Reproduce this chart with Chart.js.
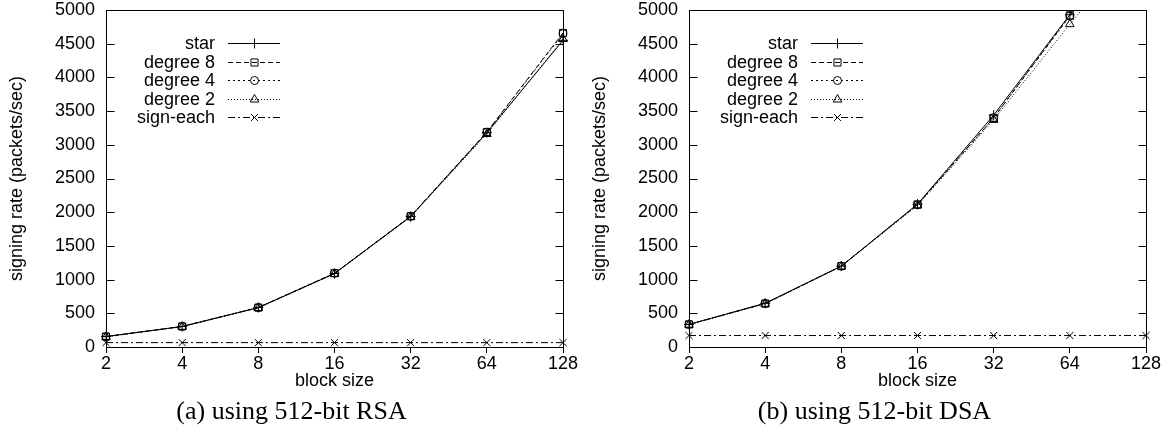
<!DOCTYPE html>
<html>
<head>
<meta charset="utf-8">
<title>signing rate</title>
<script src="https://cdn.jsdelivr.net/npm/chart.js@4.4.1/dist/chart.umd.min.js"></script>
<style>
  body { margin: 0; background: #fff; }
  .panel { position: absolute; top: 0; width: 583px; height: 436px; }
  .panel canvas { position: absolute; left: 0; top: 0; }
  .caption { position: absolute; left: 0; width: 583px; top: 396px; text-align: center;
             font: 26px 'Liberation Serif', 'Times New Roman', serif; color: #000; }
</style>
</head>
<body>
<div class="panel" style="left:0">
  <canvas id="rsa" width="583" height="436"></canvas>
  <div class="caption">(a) using 512-bit RSA</div>
</div>
<div class="panel" style="left:583px">
  <canvas id="dsa" width="583" height="436"></canvas>
  <div class="caption">(b) using 512-bit DSA</div>
</div>
<script>
const blockSizes = ['2', '4', '8', '16', '32', '64', '128'];
const seriesNames = ['star', 'degree 8', 'degree 4', 'degree 2', 'sign-each'];

// (a) 512-bit RSA, packets/sec
const rsaStar     = [155, 305, 585, 1090, 1935, 3180, 4550];
const rsaDegree8  = [155, 305, 585, 1095, 1940, 3190, 4660];
const rsaDegree4  = [155, 305, 585, 1095, 1940, 3185, 4650];
const rsaDegree2  = [150, 300, 580, 1085, 1930, 3160, 4570];
const rsaSignEach = [65, 65, 65, 65, 65, 65, 65];

// (b) 512-bit DSA, packets/sec (128 runs off the top)
const dsaStar     = [335, 650, 1200, 2120, 3440, 4930, 7000];
const dsaDegree8  = [335, 645, 1200, 2115, 3400, 4920, 6400];
const dsaDegree4  = [335, 645, 1200, 2110, 3400, 4910, 6300];
const dsaDegree2  = [330, 640, 1195, 2100, 3370, 4790, 6150];
const dsaSignEach = [170, 170, 170, 170, 170, 170, 170];

const yMin = 0, yMax = 5000, yStep = 500;

// gnuplot-like line/point styles, one per series
const styles = [
  { dash: [],           point: 'cross',    r: 5 },
  { dash: [5, 3],       point: 'rect',     r: 5 },
  { dash: [2, 3],       point: 'circle',   r: 4 },
  { dash: [1, 2],       point: 'triangle', r: 5 },
  { dash: [7, 3, 2, 3], point: 'crossRot', r: 5 }
];

Chart.defaults.font.family = "'Liberation Sans', Arial, sans-serif";
Chart.defaults.font.size = 18;
Chart.defaults.color = '#000';

// box around the plot, inward y ticks on both sides
const framePlugin = {
  id: 'frame',
  afterDraw(chart) {
    const { ctx, chartArea: a, scales: { y } } = chart;
    const l = Math.round(a.left) + 0.5, r = Math.round(a.right) + 0.5;
    const t = Math.round(a.top) + 0.5, b = Math.round(a.bottom) + 0.5;
    ctx.save();
    ctx.strokeStyle = '#000';
    ctx.lineWidth = 1;
    ctx.setLineDash([]);
    ctx.strokeRect(l, t, r - l, b - t);
    ctx.beginPath();
    y.ticks.forEach(tk => {
      const py = Math.round(y.getPixelForValue(tk.value)) + 0.5;
      ctx.moveTo(l, py); ctx.lineTo(l + 8, py);
      ctx.moveTo(r, py); ctx.lineTo(r - 8, py);
    });
    ctx.stroke();
    ctx.restore();
  }
};

// key in the top-left corner: label right-aligned, sample on its right
const keyPlugin = {
  id: 'key',
  afterDraw(chart) {
    const { ctx } = chart;
    ctx.save();
    ctx.font = "18px 'Liberation Sans', Arial, sans-serif";
    ctx.textAlign = 'right';
    ctx.textBaseline = 'middle';
    chart.data.datasets.forEach((ds, i) => {
      const y = Math.round(43 + i * 18.5) + 0.5;
      ctx.fillStyle = '#000';
      ctx.fillText(ds.label, 215, y + 1);
      ctx.strokeStyle = '#000';
      ctx.lineWidth = 1;
      ctx.setLineDash(ds.borderDash);
      ctx.beginPath();
      ctx.moveTo(228, y); ctx.lineTo(280, y);
      ctx.stroke();
      ctx.setLineDash([]);
      ctx.fillStyle = 'rgba(0,0,0,0)';
      Chart.helpers.drawPoint(ctx, { pointStyle: ds.pointStyle, rotation: 0, radius: ds.pointRadius, borderWidth: 1 }, 254.5, y);
    });
    ctx.restore();
  }
};

function makeChart(id, series) {
  const datasets = series.map((values, i) => ({
    label: seriesNames[i],
    data: values,
    borderColor: '#000',
    backgroundColor: 'rgba(0,0,0,0)',
    borderWidth: 1,
    borderDash: styles[i].dash,
    pointStyle: styles[i].point,
    pointRadius: styles[i].r,
    pointBorderColor: '#000',
    pointBackgroundColor: 'rgba(0,0,0,0)',
    pointBorderWidth: 1,
    tension: 0,
    clip: { left: 10, right: 10, top: 0, bottom: 10 }
  }));

  return new Chart(document.getElementById(id), {
    type: 'line',
    data: { labels: blockSizes, datasets },
    options: {
      responsive: false,
      animation: false,
      layout: { padding: { left: 0, right: 20, top: 10, bottom: 42 } },
      plugins: { legend: { display: false }, tooltip: { enabled: false } },
      scales: {
        x: {
          offset: false,
          border: { display: false },
          grid: { drawOnChartArea: false, color: '#000', tickLength: 6, tickColor: '#000' },
          ticks: { padding: 0, maxRotation: 0, autoSkip: false },
          title: { display: true, text: 'block size', padding: { top: 0, bottom: 2 } },
          afterFit(scale) {
            scale.height = 47;
            scale.paddingLeft = 0;
            scale.paddingRight = 0;
          }
        },
        y: {
          min: yMin,
          max: yMax,
          border: { display: false },
          grid: { display: false, drawTicks: false },
          ticks: { stepSize: yStep, padding: 11, callback: v => String(v) },
          title: { display: true, text: 'signing rate (packets/sec)', padding: { top: 6, bottom: 0 } },
          afterFit(scale) {
            scale.width = 106;
            scale.paddingTop = 0;
            scale.paddingBottom = 0;
          }
        }
      }
    },
    plugins: [framePlugin, keyPlugin]
  });
}

makeChart('rsa', [rsaStar, rsaDegree8, rsaDegree4, rsaDegree2, rsaSignEach]);
makeChart('dsa', [dsaStar, dsaDegree8, dsaDegree4, dsaDegree2, dsaSignEach]);
</script>
</body>
</html>
